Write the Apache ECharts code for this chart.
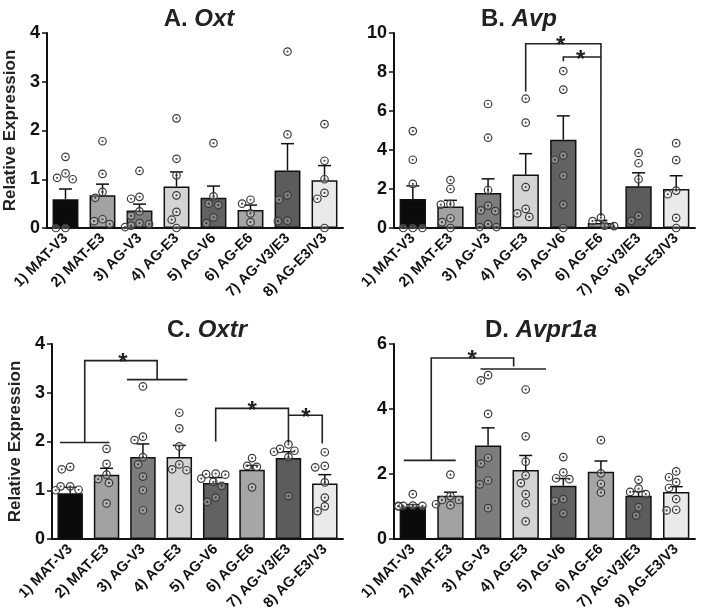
<!DOCTYPE html>
<html>
<head>
<meta charset="utf-8">
<script src="https://cdn.jsdelivr.net/npm/echarts@6/dist/echarts.min.js"></script>
<style>
html,body{margin:0;padding:0;background:#fff;}
#chart{width:704px;height:616px;}
</style>
</head>
<body>
<div id="chart"></div>
<script>
// ---------- DATA ----------
const categories = ['1) MAT-V3','2) MAT-E3','3) AG-V3','4) AG-E3','5) AG-V6','6) AG-E6','7) AG-V3/E3','8) AG-E3/V3'];

// Panel A: Oxt
const oxtMean = [0.59, 0.67, 0.36, 0.85, 0.62, 0.37, 1.18, 0.98];
const oxtSem  = [0.21, 0.23, 0.13, 0.30, 0.24, 0.10, 0.55, 0.30];
const oxtPoints = [
  [1.46, 1.03, 1.0, 1.12, 0, 0],
  [1.78, 1.11, 0.74, 0.62, 0.18, 0.08, 0.14],
  [1.17, 0.60, 0.64, 0.34, 0.25, 0.10, 0.02, 0.05, 0.08],
  [2.25, 1.42, 1.08, 0.67, 0.33, 0.17, 0],
  [1.74, 0.65, 0.50, 0.47, 0.22, 0.10],
  [0.58, 0.50, 0.30, 0.12],
  [3.62, 1.92, 0.67, 0.58, 0.14, 0.15],
  [2.13, 1.38, 1.0, 0.72, 0.60, 0]
];

// Panel B: Avp
const avpMean = [1.49, 1.10, 1.80, 2.74, 4.53, 0.26, 2.14, 2.00];
const avpSem  = [0.67, 0.32, 0.72, 1.07, 1.22, 0.13, 0.69, 0.68];
const avpPoints = [
  [4.97, 3.50, 2.26, 0, 0, 0],
  [2.46, 2.0, 1.23, 1.20, 0.50, 0.30, 0],
  [6.36, 4.63, 1.95, 1.15, 0.90, 0.87, 0.20, 0.05, 0.05],
  [6.63, 5.40, 2.10, 0.98, 0.75, 0.57],
  [8.05, 7.10, 3.72, 3.50, 2.68, 1.20, 0],
  [0.35, 0.10, 0.12, 0.53],
  [3.85, 3.32, 2.50, 0.62, 0.37],
  [4.35, 3.48, 1.92, 1.73, 0.52, 0]
];

// Panel C: Oxtr
const oxtrMean = [0.94, 1.32, 1.68, 1.68, 1.15, 1.42, 1.66, 1.14];
const oxtrSem  = [0.12, 0.13, 0.27, 0.24, 0.11, 0.09, 0.13, 0.18];
const oxtrPoints = [
  [1.48, 1.43, 1.08, 1.08, 1.0, 1.01],
  [1.85, 1.54, 1.32, 1.23, 1.15, 0.73],
  [3.13, 2.10, 2.03, 1.68, 1.53, 1.28, 1.0, 0.59],
  [2.59, 2.27, 1.90, 1.53, 1.43, 1.41, 0.62],
  [1.34, 1.33, 1.32, 1.24, 1.17, 1.09, 0.85, 0.76],
  [1.66, 1.50, 1.48, 1.06],
  [1.94, 1.85, 1.81, 1.79, 1.68, 0.88],
  [1.78, 1.50, 1.47, 1.16, 0.85, 0.67, 0.57]
];

// Panel D: Avpr1a
const avpr1aMean = [1.00, 1.33, 2.88, 2.12, 1.64, 2.07, 1.33, 1.45];
const avpr1aSem  = [0.06, 0.11, 0.54, 0.45, 0.22, 0.33, 0.13, 0.16];
const avpr1aPoints = [
  [1.38, 1.03, 1.02, 1.02, 1.02, 1.0],
  [1.98, 1.32, 1.20, 1.20, 1.04, 1.07],
  [5.04, 4.88, 3.85, 2.50, 2.32, 1.80, 1.68, 0.95],
  [4.60, 3.16, 2.38, 1.96, 1.72, 1.38, 1.10, 0.54],
  [2.52, 2.05, 1.84, 1.87, 1.23, 1.17, 0.79],
  [3.04, 2.02, 1.70, 1.43],
  [1.82, 1.55, 1.45, 1.38, 0.98, 0.72],
  [2.08, 1.90, 1.75, 1.57, 1.23, 0.88, 0.90]
];

// Significance brackets (polylines in [category index, value] units) and star anchors
const avpBrackets = [
  [[3, 7.0], [3, 9.45], [5, 9.45], [5, 0.6]],
  [[4, 8.55], [4, 8.77], [5, 8.77]]
];
const avpStars = [[3.93, 9.6], [4.46, 8.92]];
const oxtrBrackets = [
  [[-0.28, 1.98], [1.08, 1.98]],
  [[0.4, 1.98], [0.4, 3.66], [2.39, 3.66], [2.39, 3.27]],
  [[1.56, 3.27], [3.22, 3.27]],
  [[4, 2.0], [4, 2.68], [6, 2.68], [6, 1.97]],
  [[6, 2.54], [6.93, 2.54], [6.93, 1.96]]
];
const oxtrStars = [[1.45, 3.72], [5.0, 2.74], [6.48, 2.6]];
const avpr1aBrackets = [
  [[-0.24, 2.42], [1.14, 2.42]],
  [[0.49, 2.42], [0.49, 5.57], [2.68, 5.57], [2.68, 5.31]],
  [[1.8, 5.23], [3.54, 5.23]]
];
const avpr1aStars = [[1.58, 5.68]];

const barColors = ['#0b0b0b', '#a2a2a2', '#7d7d7d', '#d4d4d4', '#626262', '#a6a6a6', '#5c5c5c', '#eaeaea'];

// ---------- LAYOUT ----------
const FONT = 'Liberation Sans, Arial, Helvetica, sans-serif';
const panels = [
  {letter: 'A. ', gene: 'Oxt', mean: oxtMean, sem: oxtSem, pts: oxtPoints, max: 4, interval: 1,
   grid: {left: 47, top: 33, width: 296, height: 195}, titleX: 194, titleY: 2, ylabel: true,
   brackets: [], stars: []},
  {letter: 'B. ', gene: 'Avp', mean: avpMean, sem: avpSem, pts: avpPoints, max: 10, interval: 2,
   grid: {left: 394, top: 33, width: 301, height: 195}, titleX: 514, titleY: 2, ylabel: false,
   brackets: avpBrackets, stars: avpStars},
  {letter: 'C. ', gene: 'Oxtr', mean: oxtrMean, sem: oxtrSem, pts: oxtrPoints, max: 4, interval: 1,
   grid: {left: 52, top: 344, width: 291, height: 195}, titleX: 202, titleY: 313, ylabel: true,
   brackets: oxtrBrackets, stars: oxtrStars},
  {letter: 'D. ', gene: 'Avpr1a', mean: avpr1aMean, sem: avpr1aSem, pts: avpr1aPoints, max: 6, interval: 2,
   grid: {left: 394, top: 344, width: 301, height: 195}, titleX: 536, titleY: 313, ylabel: false,
   brackets: avpr1aBrackets, stars: avpr1aStars}
];

// beeswarm-like horizontal spread (layout only)
function spread(vals, pxPerY, pxPerX) {
  const d = 8.6, step = 1.2, maxPx = pxPerX * 0.38;
  const order = vals.map((v, i) => i).sort((a, b) => vals[b] - vals[a]);
  const placed = [];
  const off = new Array(vals.length).fill(0);
  order.forEach(i => {
    const y = vals[i] * pxPerY;
    let best = 0;
    for (let k = 0; k < 200; k++) {
      const m = Math.ceil(k / 2) * step * (k % 2 === 1 ? -1 : 1);
      if (Math.abs(m) > maxPx) { best = m; break; }
      let ok = true;
      for (const p of placed) {
        const dx = m - p.x, dy = y - p.y;
        if (dx * dx + dy * dy < d * d) { ok = false; break; }
      }
      if (ok) { best = m; break; }
    }
    placed.push({x: best, y});
    off[i] = best / pxPerX;
  });
  return off;
}

const option = {
  backgroundColor: '#fff',
  animation: false,
  title: [], grid: [], xAxis: [], yAxis: [], series: []
};

panels.forEach((p, g) => {
  option.title.push({
    text: '{a|' + p.letter + '}{b|' + p.gene + '}',
    left: p.titleX, top: p.titleY, textAlign: 'center',
    textStyle: {
      rich: {
        a: {fontSize: 24, fontWeight: 'bold', fontFamily: FONT, color: '#222'},
        b: {fontSize: 24, fontWeight: 'bold', fontStyle: 'italic', fontFamily: FONT, color: '#222'}
      }
    }
  });
  option.grid.push(Object.assign({containLabel: false}, p.grid));
  // category axis (bars, labels)
  option.xAxis.push({
    type: 'category', gridIndex: g, data: categories,
    axisLine: {onZero: false, lineStyle: {color: '#111', width: 2}},
    axisTick: {alignWithLabel: true, length: 5, lineStyle: {color: '#111', width: 1.5}},
    axisLabel: {rotate: 45, interval: 0, margin: 8, color: '#111', fontSize: 14.5, fontWeight: 'bold', fontFamily: FONT}
  });
  // hidden value axis for points, error bars, brackets
  option.xAxis.push({
    type: 'value', gridIndex: g, min: -0.5, max: 7.5, show: false
  });
  option.yAxis.push({
    type: 'value', gridIndex: g, min: 0, max: p.max, interval: p.interval,
    name: p.ylabel ? 'Relative Expression' : '', nameLocation: 'middle', nameGap: 28,
    nameTextStyle: {fontSize: 17, fontWeight: 'bold', fontFamily: FONT, color: '#222'},
    splitLine: {show: false},
    axisLine: {show: true, onZero: false, lineStyle: {color: '#111', width: 2}},
    axisTick: {show: true, length: 5, lineStyle: {color: '#111', width: 1.5}},
    axisLabel: {fontSize: 18, fontWeight: 'bold', color: '#111', fontFamily: FONT, margin: 7}
  });

  const xCat = 2 * g, xVal = 2 * g + 1;
  option.series.push({
    type: 'bar', xAxisIndex: xCat, yAxisIndex: g, barWidth: '70%', z: 2,
    data: p.mean.map((v, i) => ({value: v, itemStyle: {color: barColors[i]}})),
    itemStyle: {borderColor: '#111', borderWidth: 1.5}
  });
  // error bars
  option.series.push({
    type: 'custom', xAxisIndex: xVal, yAxisIndex: g, z: 3, silent: true,
    data: p.mean.map((v, i) => [i, v, p.sem[i]]),
    renderItem: function (params, api) {
      const x = api.value(0), m = api.value(1), s = api.value(2);
      const a = api.coord([x, m]), b = api.coord([x, m + s]);
      const st = {stroke: '#111', lineWidth: 1.5, fill: null};
      return {type: 'group', children: [
        {type: 'line', shape: {x1: a[0], y1: a[1], x2: b[0], y2: b[1]}, style: st},
        {type: 'line', shape: {x1: b[0] - 6.5, y1: b[1], x2: b[0] + 6.5, y2: b[1]}, style: st}
      ]};
    }
  });
  // points
  const pxPerY = p.grid.height / p.max, pxPerX = p.grid.width / 8;
  const pts = [];
  p.pts.forEach((arr, i) => {
    const off = spread(arr, pxPerY, pxPerX);
    arr.forEach((v, j) => pts.push([i + off[j], v]));
  });
  option.series.push({
    type: 'scatter', xAxisIndex: xVal, yAxisIndex: g, z: 4, silent: true,
    symbol: 'circle', symbolSize: 7.5, data: pts,
    itemStyle: {color: 'rgba(255,255,255,0.25)', borderColor: '#3a3a3a', borderWidth: 1.2, opacity: 1}
  });
  option.series.push({
    type: 'scatter', xAxisIndex: xVal, yAxisIndex: g, z: 5, silent: true,
    symbol: 'circle', symbolSize: 2.2, data: pts,
    itemStyle: {color: '#222'}
  });
  // brackets
  if (p.brackets.length) {
    option.series.push({
      type: 'custom', xAxisIndex: xVal, yAxisIndex: g, z: 6, silent: true,
      data: p.brackets.map((b, i) => [i]),
      renderItem: function (params, api) {
        const br = p.brackets[params.dataIndex];
        return {type: 'polyline', shape: {points: br.map(q => api.coord(q))},
          style: {stroke: '#222', lineWidth: 1.6, fill: null}};
      }
    });
    option.series.push({
      type: 'custom', xAxisIndex: xVal, yAxisIndex: g, z: 6, silent: true,
      data: p.stars.map(s => s),
      renderItem: function (params, api) {
        const c = api.coord([api.value(0), api.value(1)]);
        return {type: 'text', x: c[0], y: c[1] + 6,
          style: {text: '*', fontSize: 24, fontWeight: 'bold', fontFamily: FONT, fill: '#222',
                  textAlign: 'center', textVerticalAlign: 'middle'}};
      }
    });
  }
});

const chart = echarts.init(document.getElementById('chart'), null, {renderer: 'canvas'});
chart.setOption(option);
</script>
</body>
</html>
